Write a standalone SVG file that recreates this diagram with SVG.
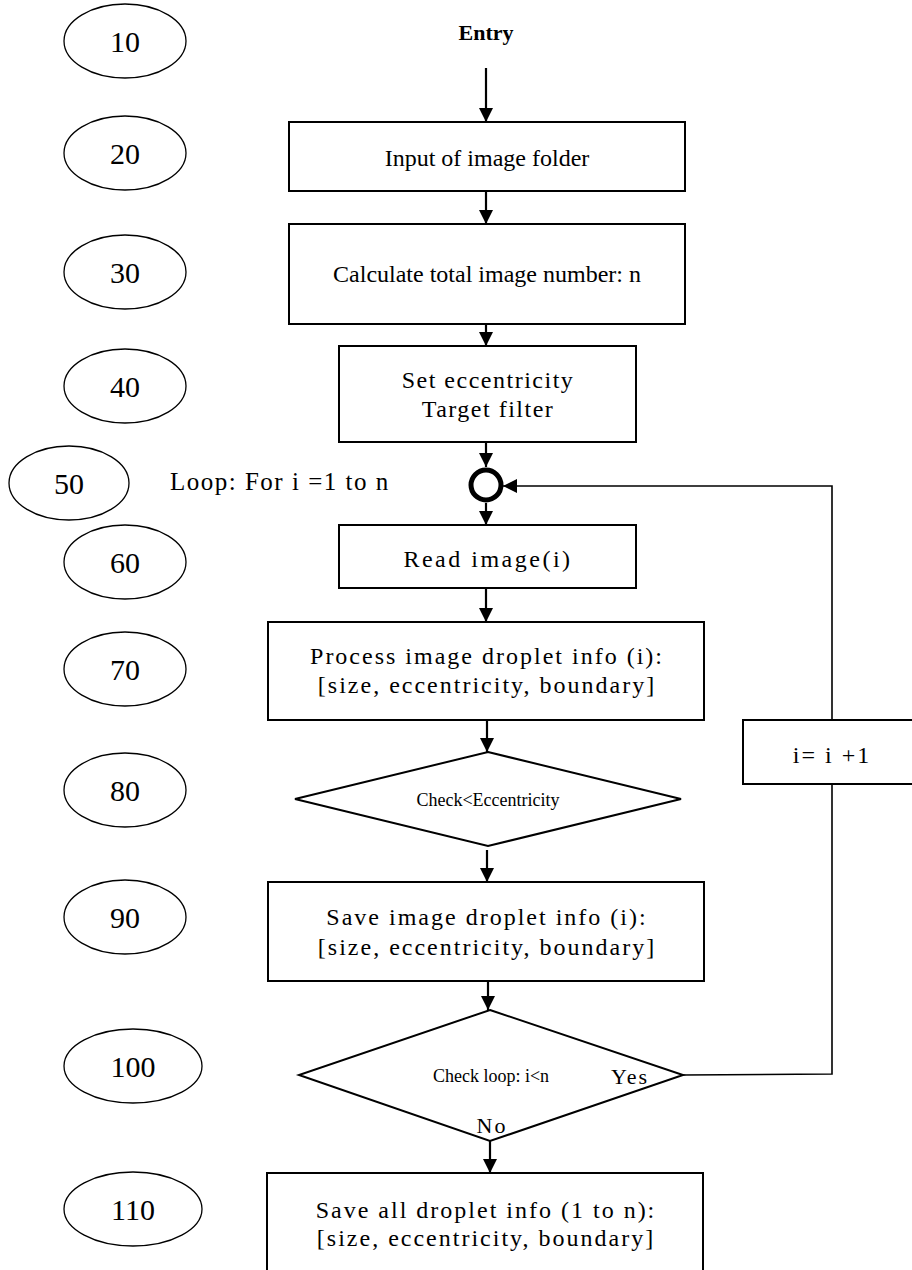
<svg xmlns="http://www.w3.org/2000/svg" width="912" height="1270" viewBox="0 0 912 1270">
<defs>
<marker id="arr" markerUnits="userSpaceOnUse" markerWidth="14" markerHeight="14" viewBox="0 0 14 14" refX="14" refY="7" orient="auto"><path d="M0,0 L14,7 L0,14 z" fill="#000"/></marker>
<style>
.num{font-family:"Liberation Serif",serif;font-size:30px;text-anchor:middle;fill:#000}
.lbl{fill:none;stroke:#000;stroke-width:1.3}
.box{fill:#fff;stroke:#000;stroke-width:2}
.t{font-family:"Liberation Serif",serif;font-size:24px;text-anchor:middle;fill:#000}
.ts{font-family:"Liberation Serif",serif;font-size:24px;text-anchor:middle;fill:#000;letter-spacing:2px}
.sm{font-family:"Liberation Serif",serif;font-size:18px;text-anchor:middle;fill:#000}
.c{fill:none;stroke:#000;stroke-width:2.2}
.thin{fill:none;stroke:#000;stroke-width:1.6}
</style>
</defs>
<g id="labels">
<g id="n10"><ellipse class="lbl" cx="125" cy="41" rx="61" ry="37"/><text class="num" x="125" y="52">10</text></g>
<g id="n20"><ellipse class="lbl" cx="125" cy="153" rx="61" ry="37"/><text class="num" x="125" y="164">20</text></g>
<g id="n30"><ellipse class="lbl" cx="125" cy="272" rx="61" ry="37"/><text class="num" x="125" y="283">30</text></g>
<g id="n40"><ellipse class="lbl" cx="125" cy="386" rx="61" ry="37"/><text class="num" x="125" y="397">40</text></g>
<g id="n50"><ellipse class="lbl" cx="69" cy="483" rx="60" ry="37"/><text class="num" x="69" y="494">50</text></g>
<g id="n60"><ellipse class="lbl" cx="125" cy="562" rx="61" ry="37"/><text class="num" x="125" y="573">60</text></g>
<g id="n70"><ellipse class="lbl" cx="125" cy="669" rx="61" ry="37"/><text class="num" x="125" y="680">70</text></g>
<g id="n80"><ellipse class="lbl" cx="125" cy="790" rx="61" ry="37"/><text class="num" x="125" y="801">80</text></g>
<g id="n90"><ellipse class="lbl" cx="125" cy="917" rx="61" ry="37"/><text class="num" x="125" y="928">90</text></g>
<g id="n100"><ellipse class="lbl" cx="133" cy="1066" rx="69" ry="37"/><text class="num" x="133" y="1077">100</text></g>
<g id="n110"><ellipse class="lbl" cx="133" cy="1209" rx="69" ry="37"/><text class="num" x="133" y="1220">110</text></g>
</g>
<g id="entry"><text x="486" y="40" style="font-family:'Liberation Serif',serif;font-size:22px;font-weight:bold;text-anchor:middle">Entry</text></g>
<g id="input"><rect class="box" x="289" y="122" width="396" height="69"/><text class="t" x="487" y="166">Input of image folder</text></g>
<g id="calc"><rect class="box" x="289" y="224" width="396" height="100"/><text class="t" x="487" y="282">Calculate total image number: n</text></g>
<g id="setecc"><rect class="box" x="339" y="346" width="297" height="96"/><text class="ts" x="488" y="388" style="letter-spacing:1.5px">Set eccentricity</text><text class="ts" x="488" y="417" style="letter-spacing:1.5px">Target filter</text></g>
<g id="loop"><text class="ts" x="170" y="490" style="text-anchor:start;letter-spacing:1.5px;font-size:25px">Loop: For i =1 to n</text><circle cx="486" cy="485" r="15" fill="#fff" stroke="#000" stroke-width="5"/></g>
<g id="read"><rect class="box" x="339" y="525" width="297" height="63"/><text class="ts" x="488" y="567" style="letter-spacing:2.5px">Read image(i)</text></g>
<g id="process"><rect class="box" x="268" y="622" width="436" height="98"/><text class="ts" x="487" y="664">Process image droplet info (i):</text><text class="ts" x="487" y="693">[size, eccentricity, boundary]</text></g>
<g id="check"><polygon class="box" points="488,752 681,799 488,846 295,799"/><text class="sm" x="488" y="806">Check&lt;Eccentricity</text></g>
<g id="save"><rect class="box" x="268" y="882" width="436" height="99"/><text class="ts" x="487" y="925">Save image droplet info (i):</text><text class="ts" x="487" y="955">[size, eccentricity, boundary]</text></g>
<g id="checkloop"><polygon class="box" points="490,1010 683,1075 490,1141 299,1075"/><text class="sm" x="491" y="1082">Check loop: i&lt;n</text><text class="ts" x="630" y="1084" style="font-size:22px">Yes</text><text class="ts" x="492" y="1133" style="font-size:22px">No</text></g>
<g id="inc"><rect class="box" x="743" y="720" width="180" height="64"/><text class="ts" x="832" y="763">i= i +1</text></g>
<g id="saveall"><rect class="box" x="267" y="1173" width="436" height="110"/><text class="ts" x="486" y="1218">Save all droplet info (1 to n):</text><text class="ts" x="486" y="1246">[size, eccentricity, boundary]</text></g>
<g id="connectors">
<line class="c" x1="486" y1="68" x2="486" y2="122" marker-end="url(#arr)"/>
<line class="c" x1="486" y1="191" x2="486" y2="224" marker-end="url(#arr)"/>
<line class="c" x1="486" y1="324" x2="486" y2="346" marker-end="url(#arr)"/>
<line class="c" x1="486" y1="442" x2="486" y2="467" marker-end="url(#arr)"/>
<line class="c" x1="486" y1="503" x2="486" y2="525" marker-end="url(#arr)"/>
<line class="c" x1="487" y1="720" x2="487" y2="752" marker-end="url(#arr)"/>
<line class="c" x1="486" y1="588" x2="486" y2="622" marker-end="url(#arr)"/>
<line class="c" x1="487" y1="850" x2="487" y2="882" marker-end="url(#arr)"/>
<line class="c" x1="488" y1="981" x2="488" y2="1010" marker-end="url(#arr)"/>
<line class="c" x1="490" y1="1141" x2="490" y2="1173" marker-end="url(#arr)"/>
<polyline class="thin" points="683,1075 832,1074 832,784"/>
<polyline class="thin" points="832,720 832,486 503,486" marker-end="url(#arr)"/>
</g>
</svg>
